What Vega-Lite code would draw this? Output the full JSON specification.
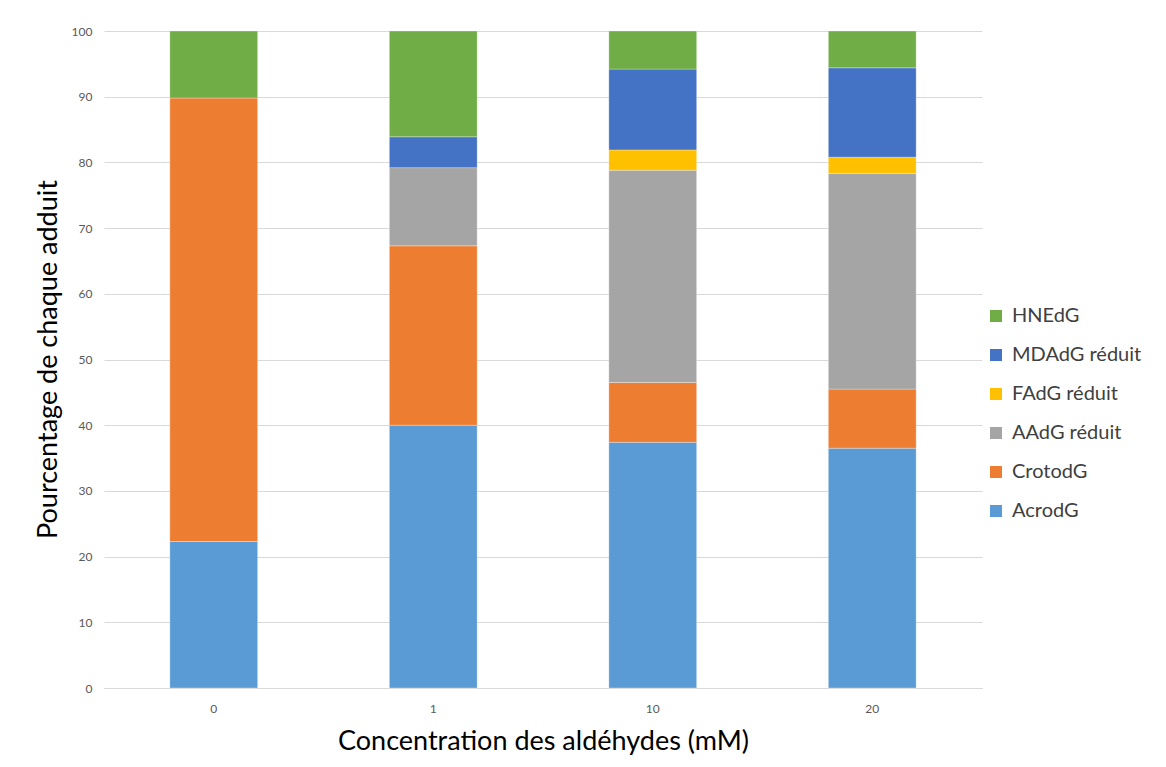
{
  "$schema": "https://vega.github.io/schema/vega-lite/v6.json",
  "autosize": "none",
  "width": 878,
  "height": 657,
  "padding": {"left": 104, "top": 31, "right": 184, "bottom": 79},
  "background": "white",
  "data": {
    "values": [
      {"Concentration": "0", "Adduit": "AcrodG", "Pourcentage": 22.3},
      {"Concentration": "0", "Adduit": "CrotodG", "Pourcentage": 67.5},
      {"Concentration": "0", "Adduit": "HNEdG", "Pourcentage": 10.2},
      {"Concentration": "1", "Adduit": "AcrodG", "Pourcentage": 40.0},
      {"Concentration": "1", "Adduit": "CrotodG", "Pourcentage": 27.3},
      {"Concentration": "1", "Adduit": "AAdG réduit", "Pourcentage": 11.9},
      {"Concentration": "1", "Adduit": "MDAdG réduit", "Pourcentage": 4.7},
      {"Concentration": "1", "Adduit": "HNEdG", "Pourcentage": 16.1},
      {"Concentration": "10", "Adduit": "AcrodG", "Pourcentage": 37.4},
      {"Concentration": "10", "Adduit": "CrotodG", "Pourcentage": 9.1},
      {"Concentration": "10", "Adduit": "AAdG réduit", "Pourcentage": 32.3},
      {"Concentration": "10", "Adduit": "FAdG réduit", "Pourcentage": 3.1},
      {"Concentration": "10", "Adduit": "MDAdG réduit", "Pourcentage": 12.3},
      {"Concentration": "10", "Adduit": "HNEdG", "Pourcentage": 5.8},
      {"Concentration": "20", "Adduit": "AcrodG", "Pourcentage": 36.5},
      {"Concentration": "20", "Adduit": "CrotodG", "Pourcentage": 9.0},
      {"Concentration": "20", "Adduit": "AAdG réduit", "Pourcentage": 32.8},
      {"Concentration": "20", "Adduit": "FAdG réduit", "Pourcentage": 2.5},
      {"Concentration": "20", "Adduit": "MDAdG réduit", "Pourcentage": 13.6},
      {"Concentration": "20", "Adduit": "HNEdG", "Pourcentage": 5.6}
    ]
  },
  "transform": [
    {"calculate": "indexof(['AcrodG','CrotodG','AAdG réduit','FAdG réduit','MDAdG réduit','HNEdG'], datum.Adduit)", "as": "ordre"}
  ],
  "mark": {"type": "bar", "stroke": "white", "strokeWidth": 0.5, "strokeOpacity": 0.6},
  "encoding": {
    "x": {
      "field": "Concentration",
      "type": "ordinal",
      "sort": ["0", "1", "10", "20"],
      "scale": {"paddingInner": 0.6, "paddingOuter": 0.3},
      "axis": {
        "title": "Concentration des aldéhydes (mM)",
        "labelAngle": 0,
        "labelFont": "Lato",
        "labelFontSize": 12,
        "labelColor": "#595959",
        "labelPadding": 15,
        "ticks": false,
        "domain": true,
        "domainColor": "#D9D9D9",
        "domainWidth": 1,
        "titleFont": "Lato",
        "titleFontSize": 27,
        "titleFontWeight": "normal",
        "titleColor": "#000000",
        "titleBaseline": "middle",
        "titleY": 53
      }
    },
    "y": {
      "field": "Pourcentage",
      "type": "quantitative",
      "aggregate": "sum",
      "stack": "zero",
      "scale": {"domain": [0, 100], "nice": false},
      "axis": {
        "title": "Pourcentage de chaque adduit",
        "values": [0, 10, 20, 30, 40, 50, 60, 70, 80, 90, 100],
        "labelFont": "Lato",
        "labelFontSize": 12,
        "labelColor": "#595959",
        "labelPadding": 12,
        "ticks": false,
        "domain": false,
        "grid": true,
        "gridColor": "#D9D9D9",
        "gridWidth": 1,
        "titleFont": "Lato",
        "titleFontSize": 27,
        "titleFontWeight": "normal",
        "titleColor": "#000000",
        "titleAngle": -90,
        "titleAlign": "center",
        "titleBaseline": "middle",
        "titleX": -56,
        "titleY": 328
      }
    },
    "color": {
      "field": "Adduit",
      "type": "nominal",
      "scale": {
        "domain": ["HNEdG", "MDAdG réduit", "FAdG réduit", "AAdG réduit", "CrotodG", "AcrodG"],
        "range": ["#70AD47", "#4472C4", "#FFC000", "#A5A5A5", "#ED7D31", "#5B9BD5"]
      },
      "legend": {
        "title": null,
        "orient": "none",
        "legendX": 882,
        "legendY": 275,
        "symbolType": "square",
        "symbolSize": 144,
        "symbolStrokeWidth": 0,
        "labelFont": "Lato",
        "labelFontSize": 20,
        "labelColor": "#404040",
        "labelOffset": 6,
        "rowPadding": 19
      }
    },
    "order": {"field": "ordre", "type": "quantitative", "sort": "ascending"}
  },
  "config": {
    "view": {"stroke": null}
  }
}
